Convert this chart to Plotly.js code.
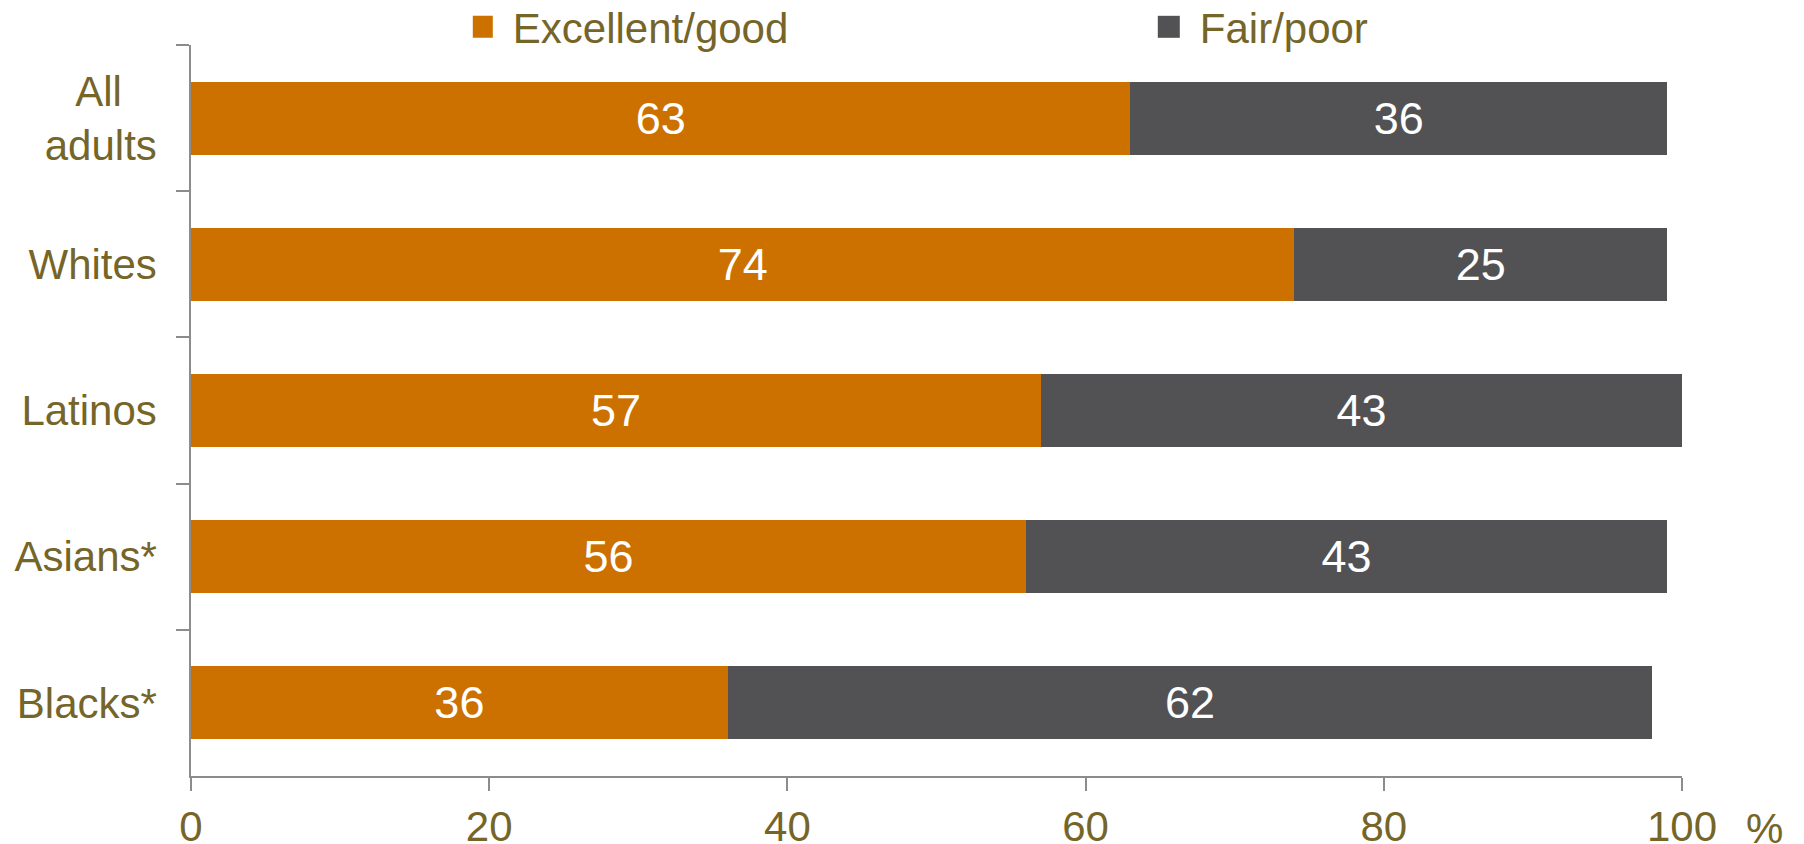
<!DOCTYPE html>
<html>
<head>
<meta charset="utf-8">
<script src="https://cdn.plot.ly/plotly-3.0.1.min.js"></script>
<style>
html,body{margin:0;padding:0;background:#fff;}
#chart{width:1804px;height:844px;}
</style>
</head>
<body>
<div id="chart"></div>
<script>
var categories = ["All\u00a0\u00a0\u00a0<br>adults", "Whites", "Latinos", "Asians*", "Blacks*"];
var excellentGood = [63, 74, 57, 56, 36];
var fairPoor = [36, 25, 43, 43, 62];
var seriesNames = ["Excellent/good", "Fair/poor"];
var xTickVals = [0, 20, 40, 60, 80, 100];
var xTickText = ["0", "20", "40", "60", "80", "100"];
var unitLabel = "%";

var FONT = "Arial, 'Liberation Sans', sans-serif";
var OLIVE = "#756528";
var AXIS = "#8c8c8c";

var traces = [
  {
    type: "bar", orientation: "h", name: seriesNames[0],
    y: categories, x: excellentGood,
    text: excellentGood.map(String), textposition: "inside", insidetextanchor: "middle",
    constraintext: "none",
    textfont: {family: FONT, size: 45, color: "#ffffff"},
    marker: {color: "#cc7000", line: {width: 0}},
    hoverinfo: "x+y"
  },
  {
    type: "bar", orientation: "h", name: seriesNames[1],
    y: categories, x: fairPoor,
    text: fairPoor.map(String), textposition: "inside", insidetextanchor: "middle",
    constraintext: "none",
    textfont: {family: FONT, size: 45, color: "#ffffff"},
    marker: {color: "#525254", line: {width: 0}},
    hoverinfo: "x+y"
  }
];

var layout = {
  width: 1804, height: 844,
  paper_bgcolor: "#ffffff", plot_bgcolor: "#ffffff",
  margin: {l: 191, r: 122, t: 45, b: 68, pad: 0, autoexpand: false},
  barmode: "stack", bargap: 0.5,
  font: {family: FONT, size: 42, color: OLIVE},
  showlegend: true,
  legend: {
    orientation: "h", x: 0.189, xanchor: "left", y: 0.968, yanchor: "middle",
    xref: "paper", yref: "container",
    font: {family: FONT, size: 42, color: OLIVE},
    entrywidth: 642, traceorder: "normal",
    bgcolor: "rgba(0,0,0,0)", itemclick: false, itemdoubleclick: false
  },
  xaxis: {
    range: [0, 100], tickmode: "array", tickvals: xTickVals, ticktext: xTickText,
    showgrid: false, zeroline: false,
    showline: true, linecolor: AXIS, linewidth: 1.5,
    ticks: "outside", ticklen: 13, tickwidth: 1.5, tickcolor: AXIS,
    tickfont: {family: FONT, size: 42, color: OLIVE},
    ticklabelstandoff: 0, fixedrange: true
  },
  yaxis: {
    autorange: "reversed", type: "category",
    showgrid: false, zeroline: false,
    showline: true, linecolor: AXIS, linewidth: 1.5,
    ticks: "outside", ticklen: 13, tickwidth: 1.5, tickcolor: AXIS,
    tickson: "boundaries",
    tickfont: {family: FONT, size: 42, color: OLIVE},
    ticklabelstandoff: 24, fixedrange: true
  },
  annotations: [
    {
      xref: "paper", yref: "paper", x: 1.0, y: 0, xshift: 82, yshift: -52,
      text: unitLabel, showarrow: false, xanchor: "center", yanchor: "middle",
      font: {family: FONT, size: 42, color: OLIVE}
    }
  ]
};

function enlargeLegendSwatches() {
  document.querySelectorAll("#chart .legend .legendpoints path").forEach(function (p) {
    p.setAttribute("d", "M0,11H-22V-11H0Z");
  });
}

var gd = document.getElementById("chart");
Plotly.newPlot(gd, traces, layout, {displayModeBar: false, responsive: false}).then(function () {
  enlargeLegendSwatches();
  gd.on("plotly_afterplot", enlargeLegendSwatches);
});
</script>
</body>
</html>
